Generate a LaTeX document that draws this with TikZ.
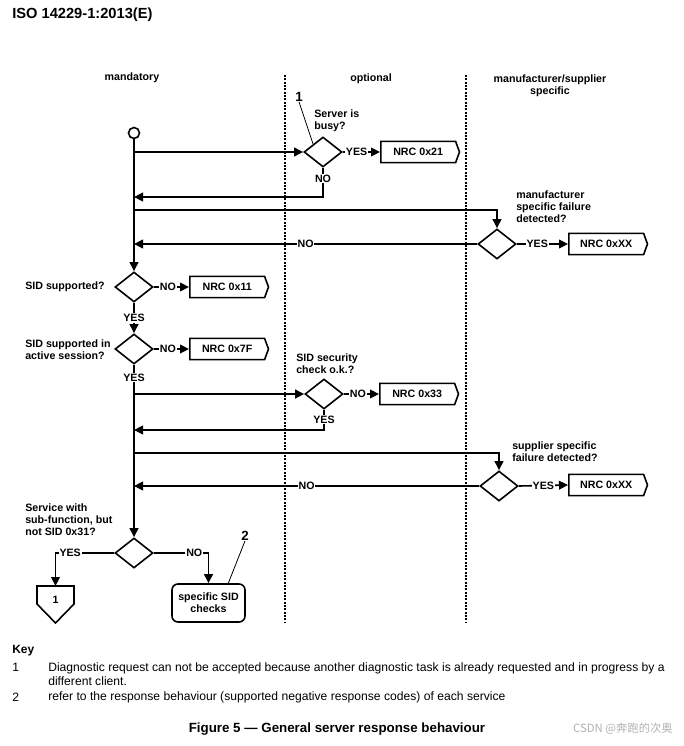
\documentclass[tikz,border=0pt]{standalone}
\usepackage{fontspec}
\setmainfont{Liberation Sans}
\newfontfamily\cjk{Noto Sans CJK SC}
\usetikzlibrary{shapes.geometric,shapes.symbols,arrows.meta}
\begin{document}
\begin{tikzpicture}[x=0.75pt,y=-0.75pt,
  font=\fontsize{8}{9}\selectfont\bfseries,
  flow/.style={line width=1.2pt},
  arr/.style={flow,-{Triangle[length=6.75pt,width=6.5pt]}},
  dec/.style={diamond,draw,line width=1.2pt,inner sep=0pt,minimum width=28.5pt,minimum height=22.5pt},
  nrc/.style={signal,signal to=east,signal pointer angle=140,draw,line width=1.2pt,minimum width=59pt,minimum height=16pt,inner sep=0pt},
  lbl/.style={inner sep=0.6pt,fill=white},
  note/.style={align=left,inner sep=0pt,anchor=west},
  lane/.style={line width=1pt,dash pattern=on 1.5pt off 1pt},
  leader/.style={line width=0.6pt},
  keynum/.style={font=\fontsize{10}{12}\selectfont\bfseries,inner sep=0pt},
  keytext/.style={font=\fontsize{9.1}{10.5}\selectfont,inner sep=0pt,anchor=west,align=left}
]
\useasboundingbox[fill=white] (0,0) rectangle (684,746);

% title and headers
\node[anchor=west,inner sep=0pt,font=\fontsize{11}{13}\selectfont\bfseries] (title) at (12,15) {ISO 14229-1:2013(E)};
\node[inner sep=0pt] (hmand) at (132,78) {mandatory};
\node[inner sep=0pt] (hopt) at (371,79) {optional};
\node[inner sep=0pt,align=center] (hman) at (550,85.5) {manufacturer/supplier\\specific};

% lanes
\coordinate (l1t) at (285,75); \coordinate (l1b) at (285,623);
\coordinate (l2t) at (466,75); \coordinate (l2b) at (466,623);
\draw[lane] (l1t) -- (l1b);
\draw[lane] (l2t) -- (l2b);

% main line points
\node[circle,draw,line width=1.2pt,minimum size=8.25pt,inner sep=0pt] (start) at (134,133) {};
\coordinate (m1) at (134,152);
\coordinate (m2) at (134,197);
\coordinate (m3) at (134,210);
\coordinate (m4) at (134,244);
\coordinate (m5) at (134,394);
\coordinate (m6) at (134,430);
\coordinate (m7) at (134,453);
\coordinate (m8) at (134,486);

% decisions
\node[dec] (busy) at (323,152) {};
\node[dec] (manu) at (497,244) {};
\node[dec] (sid) at (134,287) {};
\node[dec] (sess) at (134,349) {};
\node[dec] (sec) at (324,394) {};
\node[dec] (supp) at (499,486) {};
\node[dec] (sub) at (134,553) {};

% NRC boxes
\node[nrc,anchor=west] (nrc21) at (380,152) {NRC 0x21};
\node[nrc,anchor=west] (nrcxx1) at (568,244) {NRC 0xXX};
\node[nrc,anchor=west] (nrc11) at (189,287) {NRC 0x11};
\node[nrc,anchor=west] (nrc7f) at (189,349) {NRC 0x7F};
\node[nrc,anchor=west] (nrc33) at (379,394) {NRC 0x33};
\node[nrc,anchor=west] (nrcxx2) at (568,485) {NRC 0xXX};

% questions
\node[note] (qbusy) at (314,120.5) {Server is\\busy?};
\node[note] (qmanu) at (516,207) {manufacturer\\specific failure\\detected?};
\node[note] (qsid) at (25,287) {SID supported?};
\node[note] (qsess) at (25,349.5) {SID supported in\\active session?};
\node[note] (qsec) at (296,363.5) {SID security\\check o.k.?};
\node[note] (qsupp) at (512,452) {supplier specific\\failure detected?};
\node[note] (qsub) at (25,520) {Service with\\sub-function, but\\not SID 0x31?};

% main line
\draw[arr] (start.south) -- (sid.north);
\draw[arr] (sid.south) -- node[lbl] (ysid) {YES} (sess.north);
\draw[arr] (sess.south) -- node[lbl,pos=0.075] (ysess) {YES} (sub.north);

% server busy
\draw[arr] (m1) -- (busy.west);
\draw[arr] (busy.east) -- node[lbl,pos=0.37] (ybusy) {YES} (nrc21.west);
\draw[arr] (busy.south) -- node[lbl,pos=0.38] (nbusy) {NO} (busy.south |- m2) -- (m2);

% manufacturer
\draw[arr] (m3) -- (m3 -| manu.north) -- (manu.north);
\draw[arr] (manu.east) -- node[lbl,pos=0.4] (ymanu) {YES} (nrcxx1.west);
\draw[arr] (manu.west) -- node[lbl,pos=0.5] (nmanu) {NO} (m4);

% SID supported
\draw[arr] (sid.east) -- node[lbl,pos=0.4] (nsid) {NO} (nrc11.west);
\draw[arr] (sess.east) -- node[lbl,pos=0.4] (nsess) {NO} (nrc7f.west);

% security
\draw[arr] (m5) -- (sec.west);
\draw[arr] (sec.east) -- node[lbl,pos=0.4] (nsec) {NO} (nrc33.west);
\draw[arr] (sec.south) -- node[lbl,pos=0.5] (ysec) {YES} (sec.south |- m6) -- (m6);

% supplier
\draw[arr] (m7) -- (m7 -| supp.north) -- (supp.north);
\draw[arr] (supp.east) -- node[lbl,pos=0.5] (ysupp) {YES} (nrcxx2.west);
\draw[arr] (supp.west) -- node[lbl,pos=0.5] (nsupp) {NO} (m8);

% last decision
\coordinate (conn) at (55.5,586);
\draw[line width=1.2pt,line join=miter] (37,586) -- (74,586) -- (74,604) -- (55.5,623) -- (37,604) -- cycle;
\node[inner sep=0pt] (conn1) at (55.5,600) {1};
\node[draw,line width=1.2pt,rounded corners=4.5pt,minimum width=54.75pt,minimum height=28.5pt,align=center,inner sep=0pt] (chk) at (208.5,603) {specific SID\\checks};
\draw[arr] (sub.west) -- node[lbl,pos=0.75] (ysub) {YES} (sub.west -| conn) -- (conn);
\draw[arr] (sub.east) -- node[lbl,pos=0.74] (nsub) {NO} (sub.east -| chk.north) -- (chk.north);

% key markers
\node[keynum] (k1) at (299,97) {1};
\draw[leader] (k1.south) -- (busy.north west);
\node[keynum] (k2) at (245,536) {2};
\draw[leader] (k2.south) -- (chk.45);

% key text
\node[anchor=west,inner sep=0pt,font=\fontsize{9}{10.5}\selectfont\bfseries] (key) at (12,651) {Key};
\node[keytext] (key1n) at (12,667) {1};
\node[keytext] (key1t) at (48,674) {Diagnostic request can not be accepted because another diagnostic task is already requested and in progress by a\\different client.};
\node[keytext] (key2n) at (12,697) {2};
\node[keytext] (key2t) at (48,697) {refer to the response behaviour (supported negative response codes) of each service};

\node[inner sep=0pt,font=\fontsize{10}{12}\selectfont\bfseries] (caption) at (337,729) {Figure 5 — General server response behaviour};
\node[inner sep=0pt,text=black!30,font=\cjk\fontsize{8.5}{10}\selectfont] (wm) at (623,729) {CSDN @奔跑的次奥};
\end{tikzpicture}
\end{document}
